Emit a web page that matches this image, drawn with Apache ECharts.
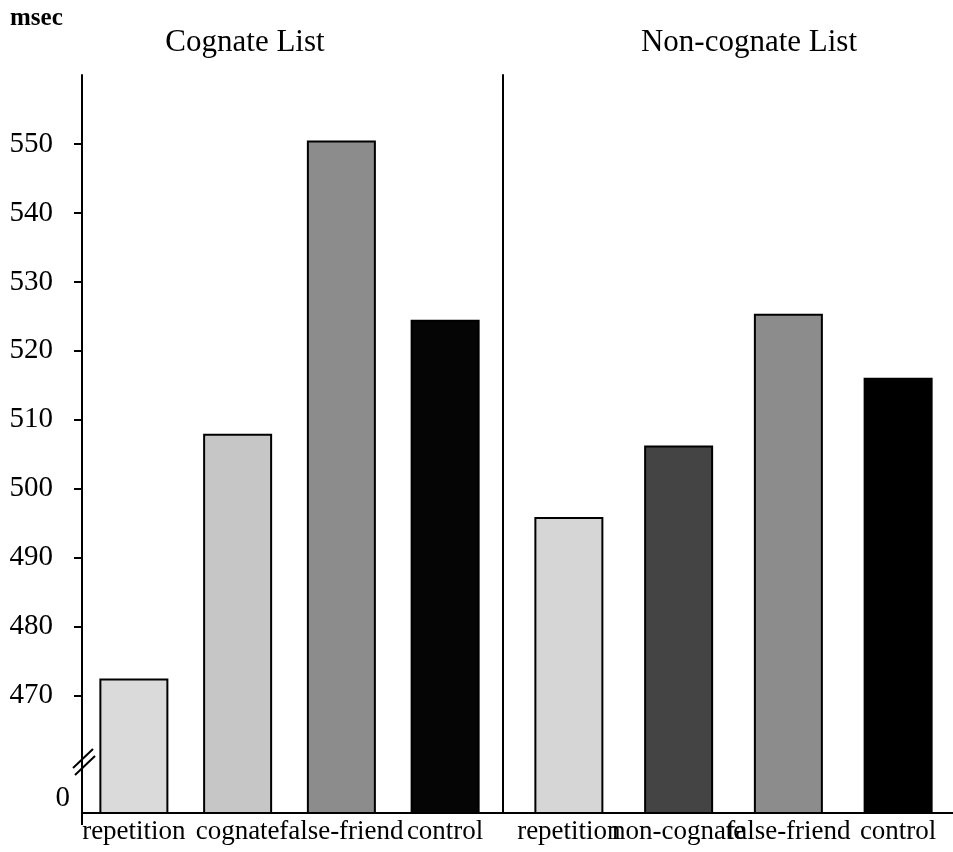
<!DOCTYPE html>
<html>
<head>
<meta charset="utf-8">
<script src="https://cdn.jsdelivr.net/npm/echarts@6/dist/echarts.min.js"></script>
<style>
  html, body { margin: 0; background: #fff; }
  #chart { width: 953px; height: 852px; }
</style>
</head>
<body>
<div id="chart"></div>
<script>
// data (msec)
const cognateCategories = ['repetition', 'cognate', 'false-friend', 'control']
const cognateValues = [472.5, 508.0, 550.5, 524.5]
const nonCognateCategories = ['repetition', 'non-cognate', 'false-friend', 'control']
const nonCognateValues = [495.9, 506.3, 525.4, 516.1]
const tickValues = [470, 480, 490, 500, 510, 520, 530, 540, 550]
const axisFloor = 453 // drawn as "0" below the axis break
const axisTop = 560

// bar fills (gray tones of the stippled print)
const cognateColors = ['#dadada', '#c6c6c6', '#8c8c8c', '#050505']
const nonCognateColors = ['#d6d6d6', '#444444', '#8c8c8c', '#000000']

const serif = '"Liberation Serif", "Times New Roman", serif'
const W = 953
const H = 852
const leftGrid = { left: 82, right: 456, top: 75, bottom: 39 }
const rightGrid = { left: 514, right: 0, top: 75, bottom: 39 }
const baseY = H - leftGrid.bottom

const chart = echarts.init(document.getElementById('chart'))

function categoryAxis(gridIndex, data) {
  return {
    type: 'category',
    gridIndex: gridIndex,
    data: data,
    axisLine: { show: true, lineStyle: { color: '#000', width: 2 } },
    axisTick: { show: false },
    axisLabel: {
      interval: 0,
      margin: 5,
      color: '#000',
      fontFamily: serif,
      fontSize: 27
    }
  }
}

function barSeries(axisIndex, yIndex, values, colors) {
  return {
    type: 'bar',
    xAxisIndex: axisIndex,
    yAxisIndex: yIndex,
    barWidth: 69,
    silent: true,
    itemStyle: { borderColor: '#000', borderWidth: 2 },
    data: values.map((v, i) => ({ value: v, itemStyle: { color: colors[i] } }))
  }
}

const titleFont = '31px ' + serif
const gapStart = W - leftGrid.right

chart.setOption({
  animation: false,
  grid: [leftGrid, rightGrid],
  xAxis: [
    categoryAxis(0, cognateCategories),
    categoryAxis(1, nonCognateCategories)
  ],
  yAxis: [
    {
      type: 'value',
      gridIndex: 0,
      position: 'left',
      min: axisFloor,
      max: axisTop,
      axisLine: { show: true, lineStyle: { color: '#000', width: 2 } },
      axisTick: {
        show: true,
        length: 8,
        customValues: tickValues,
        lineStyle: { color: '#000', width: 2 }
      },
      axisLabel: {
        customValues: tickValues,
        margin: 29,
        color: '#000',
        fontFamily: serif,
        fontSize: 29
      },
      splitLine: { show: false }
    },
    {
      // the "0" under the break
      type: 'value',
      gridIndex: 0,
      position: 'left',
      min: axisFloor,
      max: axisTop,
      axisLine: { show: false },
      axisTick: { show: false },
      axisLabel: {
        customValues: [axisFloor],
        formatter: () => '0',
        margin: 12,
        verticalAlign: 'bottom',
        color: '#000',
        fontFamily: serif,
        fontSize: 29
      },
      splitLine: { show: false }
    },
    {
      // divider between the two lists
      type: 'value',
      gridIndex: 1,
      position: 'left',
      min: axisFloor,
      max: axisTop,
      offset: 11,
      axisLine: { show: true, lineStyle: { color: '#000', width: 2 } },
      axisTick: { show: false },
      axisLabel: { show: false },
      splitLine: { show: false }
    }
  ],
  series: [
    barSeries(0, 0, cognateValues, cognateColors),
    barSeries(1, 2, nonCognateValues, nonCognateColors)
  ],
  graphic: [
    {
      type: 'text',
      x: 10,
      y: 19,
      style: {
        text: 'msec',
        font: 'bold 25px ' + serif,
        fill: '#000',
        textAlign: 'left',
        textVerticalAlign: 'middle'
      }
    },
    {
      type: 'text',
      x: 245,
      y: 43,
      style: { text: 'Cognate List', font: titleFont, fill: '#000', textAlign: 'center', textVerticalAlign: 'middle' }
    },
    {
      type: 'text',
      x: 749,
      y: 43,
      style: { text: 'Non-cognate List', font: titleFont, fill: '#000', textAlign: 'center', textVerticalAlign: 'middle' }
    },
    // baseline between the two grids
    {
      type: 'line',
      shape: { x1: gapStart - 1, y1: baseY, x2: rightGrid.left + 1, y2: baseY },
      style: { stroke: '#000', lineWidth: 2 }
    },
    // y axis runs a little past the baseline
    {
      type: 'line',
      shape: { x1: leftGrid.left, y1: baseY, x2: leftGrid.left, y2: baseY + 12 },
      style: { stroke: '#000', lineWidth: 2 }
    },
    // axis break marks
    {
      type: 'line',
      shape: { x1: leftGrid.left - 9, y1: baseY - 45, x2: leftGrid.left + 11, y2: baseY - 64 },
      style: { stroke: '#000', lineWidth: 2 }
    },
    {
      type: 'line',
      shape: { x1: leftGrid.left - 7, y1: baseY - 38, x2: leftGrid.left + 13, y2: baseY - 57 },
      style: { stroke: '#000', lineWidth: 2 }
    }
  ]
})
</script>
</body>
</html>
